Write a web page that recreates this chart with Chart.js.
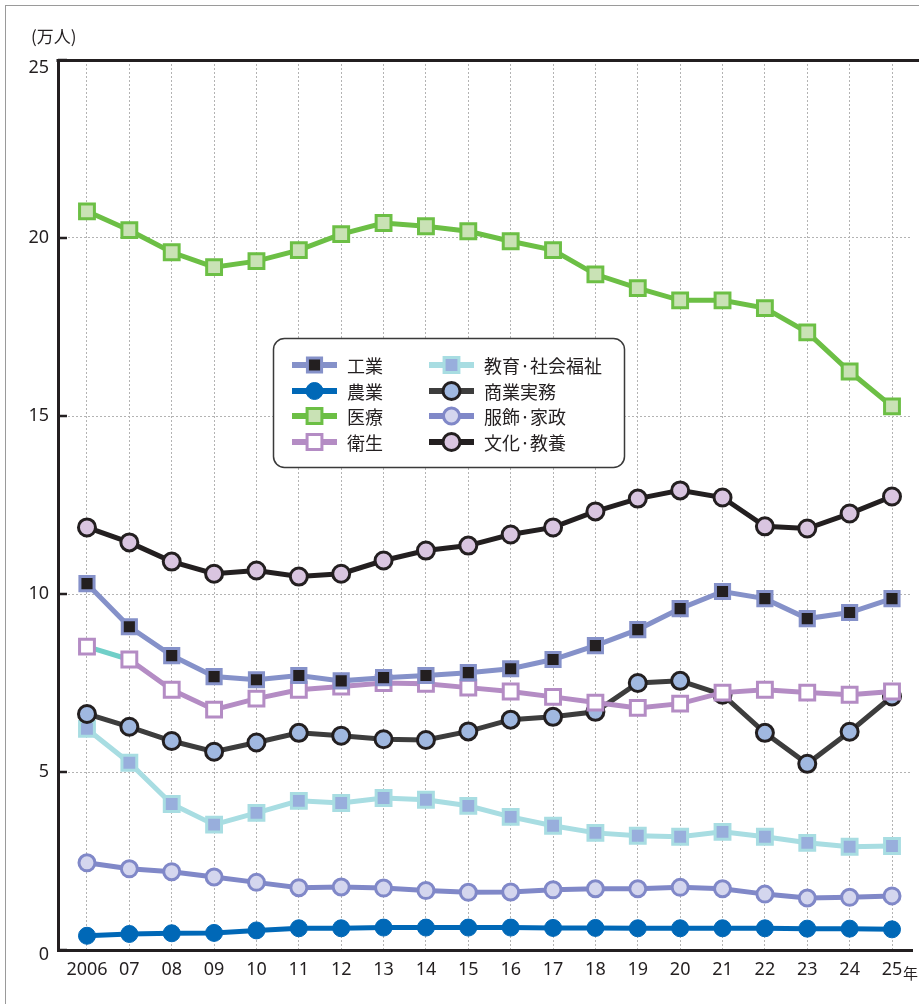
<!DOCTYPE html>
<html lang="ja">
<head>
<meta charset="utf-8">
<title>分野別 生徒数の推移</title>
<script src="https://cdn.jsdelivr.net/npm/chart.js@4.4.1/dist/chart.umd.min.js"></script>
<style>
  html, body { margin: 0; padding: 0; background: #fff; }
  #wrap { position: relative; width: 919px; height: 1004px; overflow: hidden; }
  #frame { position: absolute; left: 5px; top: 5px; width: 2000px; height: 2000px;
           border-left: 1px solid #9a9a9a; border-top: 1px solid #9a9a9a; }
  canvas { position: absolute; left: 0; top: 0; }
</style>
</head>
<body>
<div id="wrap">
  <div id="frame"></div>
  <canvas id="chart" width="919" height="1004"></canvas>
</div>
<script>
// 年（横軸）と目盛
const years = ['2006','07','08','09','10','11','12','13','14','15','16','17','18','19','20','21','22','23','24','25'];
const yTicks = [0, 5, 10, 15, 20, 25];
const unitY = '(万人)';
const unitX = '年';

// 系列名
const names = ['工業','農業','医療','衛生','教育·社会福祉','商業実務','服飾·家政','文化·教養'];

// 各分野の値（万人）
const kogyo     = [10.29, 9.08, 8.27, 7.68, 7.59, 7.71, 7.56, 7.65, 7.71, 7.79, 7.90, 8.16, 8.55, 9.00, 9.59, 10.07, 9.87, 9.31, 9.48, 9.87];
const nogyo     = [0.40, 0.45, 0.47, 0.48, 0.55, 0.61, 0.61, 0.63, 0.63, 0.63, 0.63, 0.62, 0.62, 0.61, 0.61, 0.61, 0.61, 0.60, 0.60, 0.58];
const iryo      = [20.75, 20.22, 19.60, 19.18, 19.35, 19.66, 20.11, 20.42, 20.33, 20.19, 19.91, 19.66, 18.98, 18.59, 18.25, 18.25, 18.03, 17.35, 16.25, 15.27];
const eisei     = [8.52, 8.16, 7.31, 6.75, 7.06, 7.31, 7.40, 7.50, 7.48, 7.37, 7.26, 7.11, 6.95, 6.80, 6.92, 7.23, 7.31, 7.23, 7.17, 7.26];
const kyoiku    = [6.21, 5.26, 4.10, 3.52, 3.85, 4.19, 4.13, 4.27, 4.22, 4.05, 3.74, 3.49, 3.29, 3.21, 3.18, 3.32, 3.18, 3.01, 2.90, 2.92];
const shogyo    = [6.63, 6.27, 5.87, 5.57, 5.83, 6.10, 6.02, 5.92, 5.90, 6.14, 6.47, 6.55, 6.69, 7.50, 7.56, 7.17, 6.10, 5.23, 6.13, 7.12];
const fukushoku = [2.45, 2.28, 2.20, 2.05, 1.90, 1.75, 1.77, 1.74, 1.67, 1.62, 1.63, 1.69, 1.72, 1.72, 1.76, 1.72, 1.57, 1.46, 1.48, 1.52];
const bunka     = [11.87, 11.45, 10.91, 10.57, 10.66, 10.49, 10.57, 10.94, 11.22, 11.36, 11.67, 11.87, 12.32, 12.68, 12.91, 12.71, 11.90, 11.84, 12.26, 12.74];

const seriesValues = [kogyo, nogyo, iryo, eisei, kyoiku, shogyo, fukushoku, bunka];

// 系列ごとの線・マーカーの見た目
const styles = [
  { borderColor: '#8591c9', pointStyle: 'rect',   pointRadius: 10, pointBackgroundColor: '#231f20', pointBorderColor: '#8591c9', pointBorderWidth: 3, order: 0 },
  { borderColor: '#0068b7', pointStyle: 'circle', pointRadius: 8.5, pointBackgroundColor: '#0068b7', pointBorderColor: '#0068b7', pointBorderWidth: 1, order: 7 },
  { borderColor: '#6cbf45', pointStyle: 'rect',   pointRadius: 10.5, pointBackgroundColor: '#c9e2b5', pointBorderColor: '#6cbf45', pointBorderWidth: 3, order: 6 },
  { borderColor: '#b48cc4', pointStyle: 'rect',   pointRadius: 10.5, pointBackgroundColor: '#ffffff', pointBorderColor: '#b48cc4', pointBorderWidth: 3, order: 1,
    segment: { borderColor: c => c.p0DataIndex === 0 ? '#70cfc8' : undefined } },
  { borderColor: '#a8dde2', pointStyle: 'rect',   pointRadius: 10.5, pointBackgroundColor: '#98aedc', pointBorderColor: '#a8dde2', pointBorderWidth: 3, order: 3 },
  { borderColor: '#3d3d3d', pointStyle: 'circle', pointRadius: 8.5, pointBackgroundColor: '#a0b8e0', pointBorderColor: '#231f20', pointBorderWidth: 3, order: 2 },
  { borderColor: '#8088c8', pointStyle: 'circle', pointRadius: 8,   pointBackgroundColor: '#d4d6ee', pointBorderColor: '#8088c8', pointBorderWidth: 3, order: 5 },
  { borderColor: '#231f20', pointStyle: 'circle', pointRadius: 8.5, pointBackgroundColor: '#d9c5e0', pointBorderColor: '#231f20', pointBorderWidth: 3, order: 4 }
];

const datasets = names.map((name, i) => Object.assign({
  label: name,
  data: seriesValues[i].map((v, k) => ({ x: k, y: v })),
  borderWidth: 5,
  tension: 0,
  fill: false,
  pointHoverRadius: 0
}, styles[i]));

const INK = '#231f20';
const JP = '"Noto Sans CJK JP", "Noto Sans", sans-serif';
const NUM = '"Noto Sans", "Open Sans", sans-serif';
// 端の目盛ラベル（0 と 25）は枠線に重ならないよう内側へずらす
const edgeLabelShift = { 0: 5, 25: 8 };

function drawMarker(ctx, ds, x, y) {
  ctx.beginPath();
  if (ds.pointStyle === 'rect') {
    const s = Math.SQRT1_2 * ds.pointRadius;
    ctx.rect(x - s, y - s, 2 * s, 2 * s);
  } else {
    ctx.arc(x, y, ds.pointRadius, 0, Math.PI * 2);
  }
  ctx.fillStyle = ds.pointBackgroundColor;
  ctx.fill();
  ctx.lineWidth = ds.pointBorderWidth;
  ctx.strokeStyle = ds.pointBorderColor;
  ctx.stroke();
}

// 上辺の枠線と縦軸の内向き目盛
const framePlugin = {
  id: 'frameLines',
  beforeDatasetsDraw(chart) {
    const { ctx, chartArea } = chart;
    const ys = chart.scales.y;
    ctx.save();
    ctx.strokeStyle = INK;
    ctx.lineWidth = 3;
    ctx.beginPath();
    ctx.moveTo(chartArea.left - 1.5, chartArea.top + 0.5);
    ctx.lineTo(chart.width, chartArea.top + 0.5);
    ctx.stroke();
    ctx.lineWidth = 2.5;
    yTicks.forEach(v => {
      const py = Math.round(ys.getPixelForValue(v));
      ctx.beginPath();
      ctx.moveTo(chartArea.left, py);
      ctx.lineTo(chartArea.left + 9, py);
      ctx.stroke();
    });
    ctx.restore();
  }
};

// 凡例（2列）と単位表記
const legendPlugin = {
  id: 'boxLegend',
  afterDraw(chart) {
    const ctx = chart.ctx;
    ctx.save();
    ctx.beginPath();
    ctx.roundRect(273.5, 338.5, 351, 129, 11);
    ctx.fillStyle = '#ffffff';
    ctx.fill();
    ctx.lineWidth = 1.5;
    ctx.strokeStyle = '#3a3a3a';
    ctx.stroke();

    const cols = [{ x0: 292, x1: 337, tx: 347 }, { x0: 429, x1: 474, tx: 484 }];
    const rows = [365, 391, 416, 442];
    chart.data.datasets.forEach((ds, i) => {
      const c = cols[Math.floor(i / 4)];
      const y = rows[i % 4];
      ctx.beginPath();
      ctx.moveTo(c.x0, y);
      ctx.lineTo(c.x1, y);
      ctx.lineWidth = 6;
      ctx.lineCap = 'butt';
      ctx.strokeStyle = ds.borderColor;
      ctx.stroke();
      drawMarker(ctx, ds, (c.x0 + c.x1) / 2, y);
      ctx.fillStyle = INK;
      ctx.font = '18px ' + JP;
      ctx.textAlign = 'left';
      ctx.textBaseline = 'middle';
      ctx.fillText(ds.label, c.tx, y + 1);
    });

    // 単位
    ctx.fillStyle = INK;
    ctx.font = '17px ' + JP;
    ctx.textAlign = 'left';
    ctx.textBaseline = 'middle';
    ctx.fillText(unitY, 31, 37);

    const xs = chart.scales.x;
    ctx.font = '15px ' + JP;
    ctx.fillText(unitX, xs.getPixelForValue(years.length - 1) + 11, 973);

    // 0 と 25 の目盛ラベル
    const ys = chart.scales.y;
    ctx.font = '18px ' + NUM;
    ctx.textAlign = 'right';
    Object.keys(edgeLabelShift).forEach(k => {
      const v = Number(k);
      ctx.fillText(String(v), ys.right - 9, ys.getPixelForValue(v) + edgeLabelShift[k]);
    });
    ctx.restore();
  }
};

new Chart(document.getElementById('chart'), {
  type: 'line',
  data: { datasets },
  plugins: [framePlugin, legendPlugin],
  options: {
    responsive: false,
    animation: false,
    events: [],
    layout: { autoPadding: false, padding: { top: 60, left: 0, right: 7, bottom: 0 } },
    plugins: { legend: { display: false }, tooltip: { enabled: false } },
    scales: {
      x: {
        type: 'linear',
        min: -0.684,
        max: 19.472,
        afterBuildTicks: s => { s.ticks = years.map((_, i) => ({ value: i })); },
        afterFit: s => { s.height = 54; s.paddingLeft = 0; s.paddingRight = 0; },
        grid: { color: '#b3b3b3', lineWidth: 1, drawTicks: false },
        border: { display: true, color: INK, width: 3, dash: [2, 2] },
        ticks: {
          callback: v => years[v],
          color: INK,
          font: { family: NUM, size: 18 },
          padding: 9,
          maxRotation: 0,
          autoSkip: false
        }
      },
      y: {
        min: 0,
        max: 25,
        afterBuildTicks: s => { s.ticks = yTicks.map(v => ({ value: v })); },
        afterFit: s => { s.width = 58; },
        grid: {
          color: c => (c.tick && (c.tick.value === 0 || c.tick.value === 25)) ? 'rgba(0,0,0,0)' : '#b3b3b3',
          lineWidth: 1,
          drawTicks: false
        },
        border: { display: true, color: INK, width: 3, dash: [2, 2] },
        ticks: {
          color: c => (c.tick && (c.tick.value === 0 || c.tick.value === 25)) ? 'rgba(0,0,0,0)' : INK,
          font: { family: NUM, size: 18 },
          padding: 9
        }
      }
    }
  }
});
</script>
</body>
</html>
